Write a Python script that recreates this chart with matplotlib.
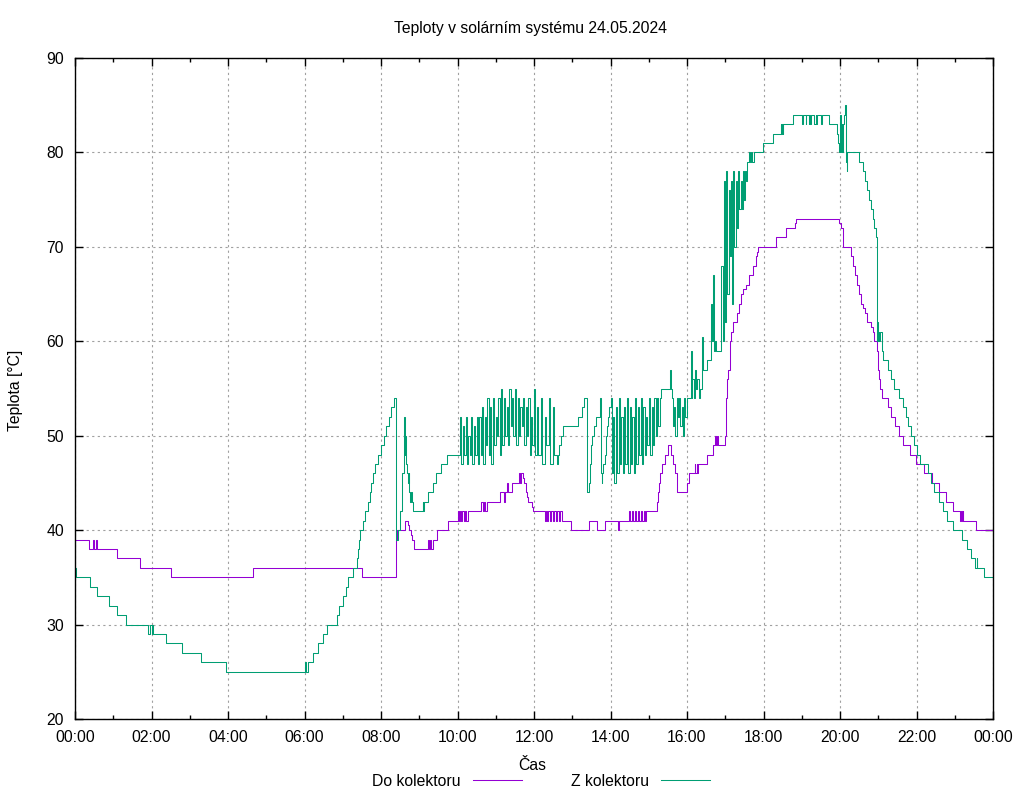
import numpy as np
import matplotlib
matplotlib.use('Agg')
import matplotlib.pyplot as plt
from matplotlib.ticker import MultipleLocator, FuncFormatter

plt.rcParams['font.family'] = ['Liberation Sans', 'DejaVu Sans']
plt.rcParams['font.size'] = 11.3

title = 'Teploty v solárním systému 24.05.2024'
names = ['Do kolektoru', 'Z kolektoru']
colors = ['#9400d3', '#009e73']

# Do kolektoru: (hour, degC) step breakpoints
do_pts = [
    (0.00, 39), (0.37, 38), (0.48, 39), (0.50, 38), (0.55, 39), (0.58, 38),
    (1.09, 37), (1.70, 36), (2.51, 35), (4.66, 36), (7.51, 35),
    (8.38, 36.5), (8.40, 39), (8.42, 40), (8.63, 41), (8.71, 40.5), (8.73, 40),
    (8.78, 39.5), (8.81, 39), (8.87, 38), (9.24, 39), (9.26, 38), (9.29, 39),
    (9.31, 38), (9.35, 39), (9.47, 40), (9.76, 41), (10.00, 42), (10.03, 41),
    (10.06, 42), (10.09, 41), (10.13, 42), (10.16, 41), (10.20, 42), (10.23, 41),
    (10.27, 42), (10.61, 43), (10.66, 42), (10.69, 43), (10.73, 42), (10.76, 43),
    (11.11, 44), (11.22, 43), (11.24, 44), (11.30, 45), (11.32, 44), (11.42, 45),
    (11.62, 46), (11.64, 45), (11.66, 46), (11.70, 45.5), (11.74, 45), (11.78, 44),
    (11.82, 43.5), (11.85, 43), (11.94, 42.5), (11.97, 42), (12.29, 41), (12.31, 42),
    (12.35, 41), (12.37, 42), (12.42, 41), (12.44, 42), (12.50, 41), (12.53, 42),
    (12.58, 41), (12.60, 42), (12.65, 41), (12.67, 42), (12.72, 41), (12.97, 40),
    (13.45, 41), (13.66, 40), (13.86, 41), (14.20, 40), (14.23, 41), (14.49, 42),
    (14.51, 41), (14.56, 42), (14.59, 41), (14.65, 42), (14.67, 41), (14.72, 42),
    (14.75, 41), (14.80, 42), (14.82, 41), (14.87, 42), (14.89, 41), (14.93, 42),
    (15.21, 43), (15.24, 44), (15.27, 45), (15.30, 46), (15.35, 47), (15.42, 48),
    (15.50, 49), (15.57, 48), (15.63, 47), (15.68, 46), (15.74, 44), (15.99, 45),
    (16.05, 46), (16.20, 47), (16.22, 46), (16.25, 47), (16.27, 46), (16.28, 47),
    (16.53, 48), (16.67, 49), (16.73, 50), (16.75, 49), (16.78, 50), (16.80, 49),
    (16.99, 50), (17.02, 54), (17.05, 56), (17.08, 57), (17.12, 60), (17.14, 61),
    (17.21, 62), (17.32, 63), (17.36, 64), (17.41, 65), (17.47, 65.5), (17.54, 66),
    (17.63, 67), (17.73, 68), (17.80, 69), (17.84, 69.5), (17.86, 70), (18.33, 71),
    (18.59, 72), (18.82, 72.5), (18.84, 73), (19.97, 72.5), (20.02, 72), (20.07, 71),
    (20.09, 70), (20.28, 69), (20.35, 68), (20.39, 67), (20.45, 66), (20.50, 65),
    (20.56, 64), (20.61, 63.5), (20.65, 63), (20.70, 62), (20.80, 61.5), (20.85, 61),
    (20.90, 60), (20.96, 59), (21.00, 57), (21.03, 56), (21.05, 55), (21.09, 54),
    (21.25, 53), (21.33, 52), (21.44, 51), (21.54, 50), (21.65, 49), (21.83, 48),
    (21.98, 47), (22.20, 46), (22.40, 45), (22.59, 44), (22.76, 43), (22.95, 42),
    (23.14, 41), (23.16, 42), (23.19, 41), (23.21, 42), (23.22, 41), (23.55, 40),
    (24.00, 40),
]

# Z kolektoru: calm stretches as breakpoints, noisy stretches as high/low pairs
z_pts_a = [
    (0.00, 36), (0.03, 35), (0.39, 34), (0.57, 33), (0.88, 32), (1.09, 31), (1.33, 30),
    (1.92, 29), (1.96, 30), (2.00, 29), (2.02, 30), (2.04, 29), (2.38, 28), (2.80, 27),
    (3.30, 26), (3.95, 25), (6.01, 26), (6.05, 25), (6.08, 26), (6.23, 27), (6.36, 28),
    (6.49, 29), (6.58, 30), (6.84, 31), (6.91, 32), (7.00, 33), (7.08, 34), (7.15, 35),
    (7.26, 36), (7.36, 37), (7.40, 38), (7.43, 39), (7.45, 40), (7.53, 41), (7.59, 42),
    (7.66, 43), (7.70, 44), (7.74, 45), (7.80, 46), (7.85, 47), (7.91, 48), (8.00, 49),
    (8.08, 50), (8.14, 51), (8.20, 52), (8.27, 53), (8.33, 54), (8.38, 39), (8.45, 40),
    (8.50, 42), (8.54, 46), (8.59, 50), (8.61, 52), (8.62, 48), (8.63, 50), (8.65, 47),
    (8.67, 46), (8.70, 45), (8.72, 46), (8.74, 44), (8.77, 43), (8.79, 44), (8.81, 43),
    (8.83, 42), (9.09, 43), (9.11, 42), (9.13, 43), (9.24, 44), (9.37, 45), (9.45, 46),
    (9.56, 47), (9.72, 48),
]
z_b1_hi = [52, 51, 52, 50, 52, 51, 52, 52, 53, 52, 54, 53, 54, 52,
           54, 55, 54, 53, 55, 54, 55, 54, 53, 54, 53, 54, 52, 55]
z_b1_lo = [47, 48, 47, 48, 47, 48, 47, 48, 47, 49, 48, 47, 49, 50,
           48, 49, 50, 49, 51, 50, 49, 50, 51, 49, 50, 48, 49, 48]
z_b2_hi = [53, 54, 52, 54, 53]
z_b2_lo = [48, 47, 49, 47, 48]
z_pts_b = [
    (12.59, 47), (12.63, 48), (12.66, 49), (12.70, 50), (12.75, 51), (13.16, 52),
    (13.25, 53), (13.32, 54), (13.39, 44), (13.43, 45), (13.46, 47), (13.48, 48),
    (13.50, 49), (13.52, 50), (13.56, 51), (13.62, 52), (13.72, 54), (13.74, 46),
    (13.77, 45), (13.79, 46), (13.81, 47), (13.85, 48), (13.88, 50), (13.91, 51),
    (13.93, 52), (13.97, 53),
]
z_b3_hi = [54, 52, 53, 54, 52, 53, 54, 53, 52, 54, 53, 54, 53, 52, 54, 53, 54, 54]
z_b3_lo = [46, 45, 46, 47, 46, 47, 46, 47, 46, 47, 48, 47, 48, 49, 48, 49, 50, 51]
z_pts_c = [(15.29, 54), (15.31, 55), (15.55, 57), (15.57, 55)]
z_b4_hi = [54, 53, 54, 54, 53, 54]
z_b4_lo = [51, 50, 52, 51, 50, 52]
z_pts_d = [(15.99, 54), (16.10, 59), (16.12, 54)]
z_b5_hi = [56, 57, 56]
z_b5_lo = [54, 55, 54]
z_pts_e = [
    (16.34, 55), (16.38, 58), (16.40, 60.5), (16.42, 57), (16.53, 58), (16.64, 64),
    (16.66, 60), (16.68, 67), (16.70, 59), (16.72, 60), (16.75, 59),
]
z_b6_hi = [68, 77, 78, 76, 77, 78, 77, 78]
z_b6_lo = [60, 62, 65, 69, 64, 70, 72, 74]
z_b7_hi = [77, 78, 78]
z_b7_lo = [74, 75, 77]
z_pts_f = [
    (17.57, 79), (17.62, 80), (17.64, 79), (17.68, 80), (17.70, 79), (17.74, 80),
    (17.98, 81), (18.26, 82), (18.45, 83), (18.47, 82), (18.49, 83), (18.50, 82),
    (18.52, 83), (18.78, 84), (19.00, 83), (19.02, 84), (19.10, 83), (19.11, 84),
    (19.18, 83), (19.20, 84), (19.22, 83), (19.24, 84), (19.33, 83), (19.36, 84),
    (19.38, 83), (19.40, 84), (19.50, 83), (19.52, 84), (19.70, 83), (19.93, 82),
    (19.96, 81), (19.98, 80), (20.00, 84), (20.02, 80), (20.04, 83), (20.06, 80),
    (20.08, 83), (20.11, 84), (20.13, 85), (20.15, 79), (20.17, 78), (20.19, 80),
    (20.50, 79), (20.60, 78), (20.65, 77), (20.70, 76), (20.75, 75), (20.80, 74),
    (20.85, 73), (20.90, 72), (20.94, 71), (20.96, 66), (20.97, 60), (20.98, 62),
    (20.99, 60), (21.01, 61), (21.03, 60), (21.05, 61), (21.09, 59), (21.13, 58),
    (21.25, 57), (21.33, 56), (21.42, 55), (21.53, 54), (21.66, 53), (21.73, 52),
    (21.79, 51), (21.85, 50), (21.94, 49), (22.00, 48), (22.09, 47), (22.29, 46),
    (22.37, 45), (22.47, 44), (22.60, 43), (22.70, 42), (22.81, 41), (22.95, 40),
    (23.18, 39), (23.31, 38), (23.42, 37), (23.53, 36), (23.57, 37), (23.59, 36),
    (23.77, 35), (24.00, 35),
]


def burst(t0, t1, highs, lows):
    dt = (t1 - t0) / len(highs)
    pts = []
    for i, (h, l) in enumerate(zip(highs, lows)):
        pts += [(t0 + i * dt, h), (t0 + (i + 0.45) * dt, l)]
    return pts


z_pts = (z_pts_a + burst(10.07, 12.07, z_b1_hi, z_b1_lo)
         + burst(12.07, 12.59, z_b2_hi, z_b2_lo) + z_pts_b
         + burst(14.0, 15.29, z_b3_hi, z_b3_lo) + z_pts_c
         + burst(15.60, 15.99, z_b4_hi, z_b4_lo) + z_pts_d
         + burst(16.14, 16.34, z_b5_hi, z_b5_lo) + z_pts_e
         + burst(16.90, 17.40, z_b6_hi, z_b6_lo)
         + burst(17.40, 17.57, z_b7_hi, z_b7_lo) + z_pts_f)

fig = plt.figure(figsize=(10.24, 8), dpi=100)
ax = fig.add_axes([75 / 1024, 1 - 719 / 800, 918 / 1024, 661 / 800])

for pts, name, c in zip([do_pts, z_pts], names, colors):
    t, v = zip(*pts)
    ax.step(t, v, where='post', color=c, lw=0.75, label=name)

ax.set_xlim(0, 24)
ax.set_ylim(20, 90)
ax.xaxis.set_major_locator(MultipleLocator(2))
ax.xaxis.set_minor_locator(MultipleLocator(1))
ax.yaxis.set_major_locator(MultipleLocator(10))
ax.xaxis.set_major_formatter(FuncFormatter(lambda v, p: '%02d:00' % (int(round(v)) % 24)))
ax.tick_params(which='both', direction='in', top=True, right=True)
ax.tick_params(which='major', length=6, width=1, pad=8)
ax.tick_params(which='minor', length=3, width=1)
ax.grid(True, which='major', color='#a0a0a0', ls=(0, (2, 3)), lw=0.8)
for s in ax.spines.values():
    s.set_linewidth(1)

fig.text(531 / 1024, 1 - 28 / 800, title, ha='center', va='center')
fig.text(532 / 1024, 1 - 766 / 800, 'Čas', ha='center', va='center')
fig.text(16 / 1024, 1 - 390 / 800, 'Teplota [°C]', rotation=90, ha='center', va='center')

ax.legend(loc='center', bbox_to_anchor=(541 / 1024, 1 - 781 / 800), bbox_transform=fig.transFigure,
          ncol=2, frameon=False, markerfirst=False, handlelength=3.1, handletextpad=0.8,
          columnspacing=3.1, borderpad=0)

fig.savefig('out.png', dpi=100)
